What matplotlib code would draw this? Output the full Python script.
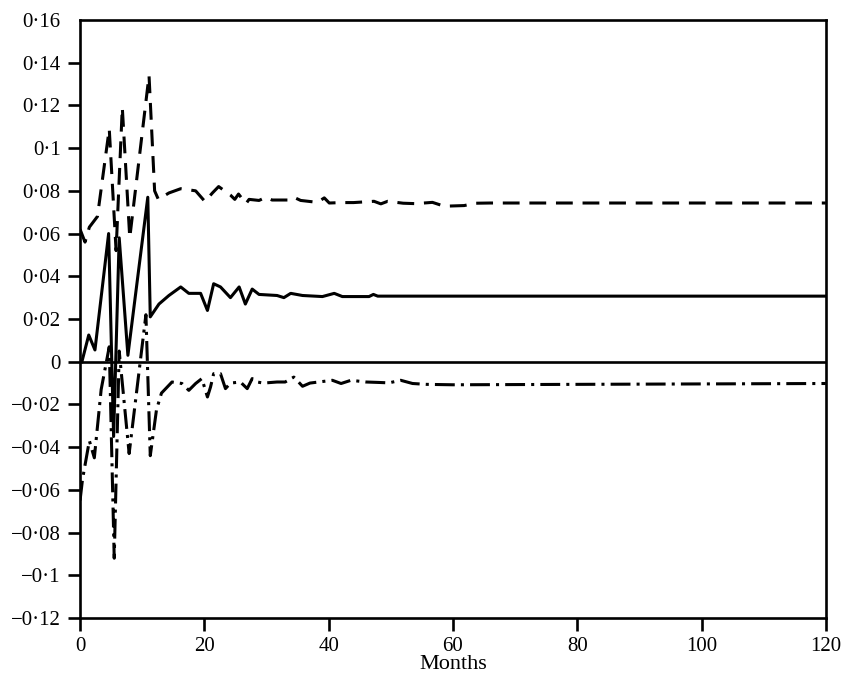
import numpy as np
import matplotlib.pyplot as plt

# impulse responses (month, value)
months_mid = [0.3, 1.4, 2.4, 4.6, 5.4, 6.3, 7.7, 10.9, 11.3, 12.7, 14.3, 16.2, 17.5,
              19.4, 20.5, 21.5, 22.6, 24.2, 25.6, 26.6, 27.7, 28.8, 31.7, 32.8, 33.9,
              35.8, 39.0, 40.9, 42.2, 46.5, 47.2, 47.9, 120.0]
resp_mid = [0.0, 0.0125, 0.0055, 0.060, -0.035, 0.058, 0.003, 0.077, 0.021, 0.027,
            0.031, 0.035, 0.032, 0.032, 0.024, 0.0365, 0.035, 0.030, 0.035, 0.027,
            0.034, 0.0315, 0.031, 0.030, 0.032, 0.031, 0.0305, 0.032, 0.0305, 0.0305,
            0.0315, 0.0307, 0.0307]

months_up = [0.0, 0.8, 1.5, 2.8, 4.7, 5.8, 6.8, 8.0, 11.1, 12.0, 12.6, 14.3, 16.2,
             18.6, 20.1, 21.3, 22.3, 24.2, 24.9, 25.5, 26.7, 27.2, 28.8, 29.9, 30.9,
             33.6, 34.4, 35.5, 38.2, 39.3, 40.1, 42.0, 44.0, 47.3, 48.4, 49.5, 52.0,
             54.0, 56.7, 58.6, 61.8, 63.7, 66.0, 120.0]
resp_up = [0.062, 0.056, 0.063, 0.068, 0.109, 0.052, 0.119, 0.058, 0.134, 0.080,
           0.076, 0.079, 0.081, 0.080, 0.075, 0.079, 0.082, 0.078, 0.076, 0.0785,
           0.074, 0.076, 0.0755, 0.077, 0.0757, 0.0757, 0.077, 0.0755, 0.0746, 0.0767,
           0.0743, 0.0745, 0.0745, 0.0751, 0.0739, 0.0751, 0.0742, 0.074, 0.0746,
           0.0728, 0.0731, 0.0742, 0.0743, 0.0743]

months_lo = [0.0, 0.4, 1.5, 2.3, 3.4, 4.7, 5.5, 6.3, 7.9, 10.6, 11.3, 12.3, 13.1,
             14.8, 16.4, 17.5, 18.6, 19.6, 20.5, 21.0, 21.5, 22.6, 23.4, 24.2, 25.8,
             26.9, 27.7, 28.5, 29.5, 31.7, 33.0, 34.4, 35.8, 37.0, 40.6, 42.0, 43.6,
             46.0, 48.0, 49.7, 51.6, 53.5, 55.7, 60.0, 120.0]
resp_lo = [-0.065, -0.055, -0.037, -0.045, -0.013, 0.007, -0.092, 0.005, -0.043,
           0.022, -0.044, -0.0225, -0.0147, -0.0095, -0.0102, -0.0134, -0.0102,
           -0.0079, -0.0165, -0.0118, -0.0056, -0.0056, -0.0126, -0.010, -0.0095,
           -0.0126, -0.0079, -0.0095, -0.010, -0.0095, -0.0095, -0.0072, -0.0115,
           -0.010, -0.0087, -0.0102, -0.0087, -0.0095, -0.0097, -0.0099, -0.0087,
           -0.0102, -0.0106, -0.0108, -0.0102]

yticks = [-0.12, -0.1, -0.08, -0.06, -0.04, -0.02, 0, 0.02, 0.04, 0.06, 0.08, 0.1, 0.12, 0.14, 0.16]
ylabels = ['\u22120\u00b712', '\u22120\u00b71', '\u22120\u00b708', '\u22120\u00b706',
           '\u22120\u00b704', '\u22120\u00b702', '0', '0\u00b702', '0\u00b704', '0\u00b706',
           '0\u00b708', '0\u00b71', '0\u00b712', '0\u00b714', '0\u00b716']
xticks = [0, 20, 40, 60, 80, 100, 120]

plt.rcParams['font.family'] = ['Liberation Serif', 'DejaVu Serif']
plt.rcParams['font.size'] = 14.5

fig = plt.figure(figsize=(8.47, 6.88), dpi=100)
ax = fig.add_axes([0.0945, 0.1017, 0.8805, 0.8693])

lw = 2.2
ax.axhline(0, color='black', lw=1.9)
ax.plot(months_mid, resp_mid, color='black', lw=lw)
ax.plot(months_up, resp_up, color='black', lw=lw, dashes=(5.5, 3.2))
ax.plot(months_lo, resp_lo, color='black', lw=lw, dashes=(6.5, 2, 1, 2))

ax.set_xlim(0, 120)
ax.set_ylim(-0.12, 0.16)
ax.set_xticks(xticks)
ax.set_yticks(yticks)
ax.set_yticklabels(ylabels)
ax.tick_params(direction='out', length=9, width=1.9, pad=5, labelsize=15)
ax.yaxis.get_major_ticks()[-1].tick1line.set_visible(False)
for s in ax.spines.values():
    s.set_linewidth(1.9)
ax.set_xlabel('Months', fontsize=16, labelpad=-1)

fig.savefig('out.png', dpi=100)
